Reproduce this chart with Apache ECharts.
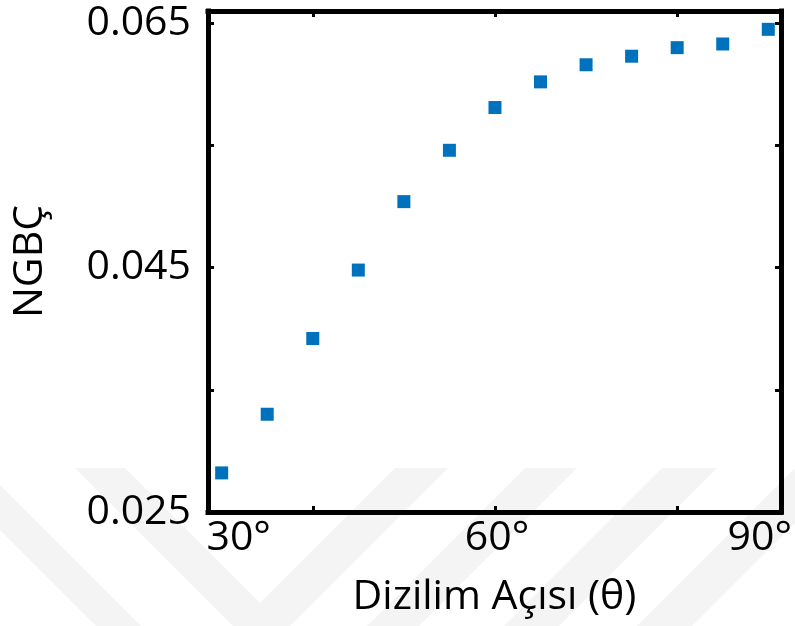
<!DOCTYPE html>
<html>
<head>
<meta charset="utf-8">
<title>NGBÇ - Dizilim Açısı</title>
<script src="https://cdn.jsdelivr.net/npm/echarts@6/dist/echarts.min.js"></script>
<style>
  html, body { margin: 0; padding: 0; background: #fff; }
  #chart { width: 795px; height: 626px; }
</style>
</head>
<body>
<div id="chart"></div>
<script>
// Dizilim açısı (derece)
const angles = [30, 35, 40, 45, 50, 55, 60, 65, 70, 75, 80, 85, 90];
// NGBÇ değerleri
const ngbc = [0.0282, 0.0330, 0.0392, 0.0448, 0.0504, 0.0546, 0.0581,
  0.0602, 0.0616, 0.0623, 0.0630, 0.0633, 0.0645];
const xTickValues = [40, 60, 80];
const xLabelValues = [30, 60, 90];
const yTickValues = [0.025, 0.035, 0.045, 0.055, 0.065];
const yLabelValues = [0.025, 0.045, 0.065];

const FONT = "'Open Sans', sans-serif";
const FS = 41;

var chart = echarts.init(document.getElementById('chart'));

// soluk filigran (arka plan)
var wmFill = '#f4f4f4';
var watermark = [
  [[0, 485], [0, 530], [96, 626], [141, 626]],
  [[75, 468], [125, 468], [260, 603], [395, 468], [448, 468], [290, 626], [233, 626]],
  [[525, 468], [577, 468], [419, 626], [367, 626]],
  [[662, 468], [717, 468], [559, 626], [504, 626]],
  [[795, 468], [850, 468], [692, 626], [637, 626]]
].map(function (pts) {
  return { type: 'polygon', z: -10, silent: true, shape: { points: pts }, style: { fill: wmFill } };
});

var axisLineStyle = { color: '#000', width: 5, cap: 'square' };
var tickStyle = { color: '#000', width: 3 };

var option = {
  backgroundColor: '#fff',
  animation: false,
  graphic: watermark,
  grid: { left: 208, right: 6, top: 11, bottom: 114 },
  xAxis: [
    {
      type: 'value',
      position: 'bottom',
      min: 28.5,
      max: 91.4,
      name: 'Dizilim Açısı (θ)',
      nameLocation: 'middle',
      nameGap: 65,
      nameTextStyle: { color: '#000', fontSize: FS, fontFamily: FONT },
      axisLine: { onZero: false, lineStyle: axisLineStyle },
      axisTick: { inside: true, length: 6, customValues: xTickValues, lineStyle: tickStyle },
      splitLine: { show: false },
      axisLabel: {
        customValues: xLabelValues,
        margin: 6,
        color: '#000',
        fontSize: FS,
        fontFamily: FONT,
        formatter: function (v) {
          if (v === 30) return '{l|' + v + '°}';
          if (v === 90) return '{r|' + v + '°}';
          return '{c|' + v + '°}';
        },
        rich: {
          l: { fontSize: FS, fontFamily: FONT, color: '#000', padding: [0, 0, 0, 34] },
          c: { fontSize: FS, fontFamily: FONT, color: '#000', padding: [0, 0, 0, 4] },
          r: { fontSize: FS, fontFamily: FONT, color: '#000', padding: [0, 17, 0, 0] }
        }
      }
    },
    {
      type: 'value',
      position: 'top',
      min: 28.5,
      max: 91.4,
      axisLine: { onZero: false, lineStyle: axisLineStyle },
      axisTick: { inside: true, length: 6, customValues: xTickValues, lineStyle: tickStyle },
      axisLabel: { show: false },
      splitLine: { show: false }
    }
  ],
  yAxis: [
    {
      type: 'value',
      position: 'left',
      min: 0.025,
      max: 0.066,
      name: 'NGBÇ',
      nameLocation: 'middle',
      nameGap: 157,
      nameTextStyle: { color: '#000', fontSize: FS, fontFamily: FONT },
      axisLine: { onZero: false, lineStyle: axisLineStyle },
      axisTick: { inside: true, length: 6, customValues: yTickValues, lineStyle: tickStyle },
      splitLine: { show: false },
      axisLabel: {
        customValues: yLabelValues,
        margin: 17,
        color: '#000',
        fontSize: FS,
        fontFamily: FONT,
        formatter: function (v) { return v.toFixed(3); }
      }
    },
    {
      type: 'value',
      position: 'right',
      min: 0.025,
      max: 0.066,
      axisLine: { onZero: false, lineStyle: axisLineStyle },
      axisTick: { inside: true, length: 6, customValues: yTickValues, lineStyle: tickStyle },
      axisLabel: { show: false },
      splitLine: { show: false }
    }
  ],
  series: [
    {
      name: 'NGBÇ',
      type: 'scatter',
      symbol: 'rect',
      symbolSize: 13,
      itemStyle: { color: '#0072BD', opacity: 1 },
      data: angles.map(function (a, i) { return [a, ngbc[i]]; })
    }
  ]
};

option && chart.setOption(option);
</script>
</body>
</html>
